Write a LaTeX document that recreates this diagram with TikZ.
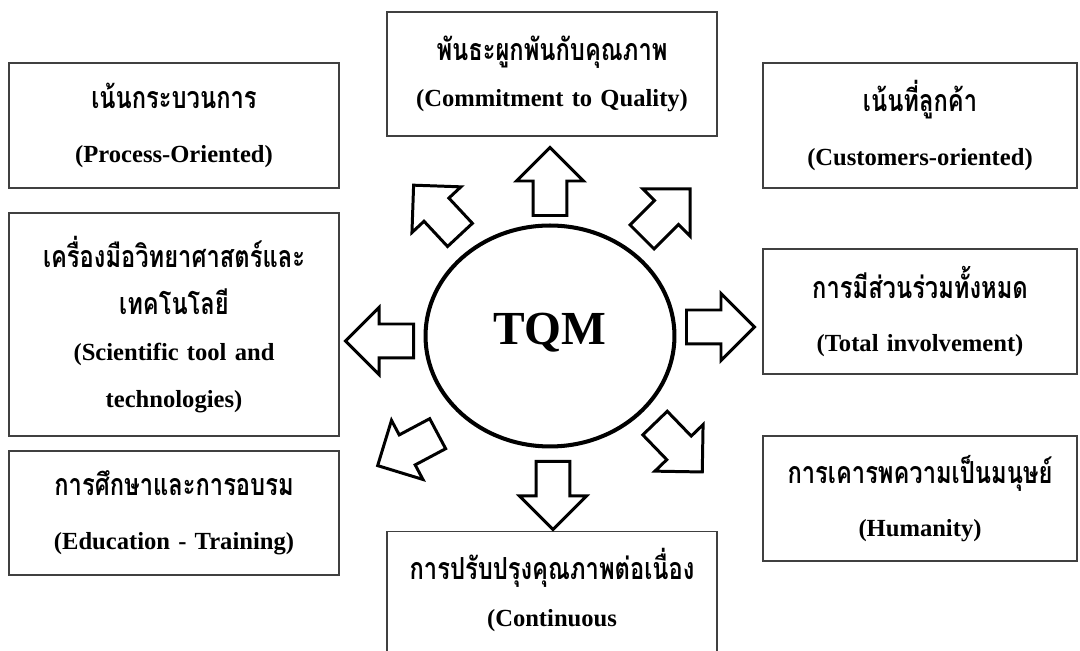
\documentclass[tikz,border=0pt]{standalone}
\usepackage{fontspec}
\setmainfont{Liberation Serif}
\newfontfamily\thaifont[Script=Thai, FakeStretch=0.78]{Loma}
\usetikzlibrary{shapes.geometric,shapes.arrows}
\newcommand{\thailine}[1]{{\thaifont\fontsize{17.3}{17.3}\selectfont #1}}

\begin{document}
\begin{tikzpicture}[x=0.02cm, y=-0.02cm]
    % Define styles
    \tikzset{
        topic/.style={
            draw=black!75,
            line width=0.8pt,
            rectangle,
            inner sep=0pt,
            text width=6.2cm,
            align=center,
            font=\fontsize{14}{#1}\selectfont\bfseries
        },
        topic/.default=30.6pt,
        hub/.style={
            ellipse,
            draw,
            line width=2.3pt,
            minimum width=4.98cm,
            minimum height=4.42cm,
            inner sep=0pt
        },
        bigarrow/.style={
            single arrow,
            draw,
            fill=white,
            line width=1.7pt,
            minimum height=1.36cm,
            inner xsep=0pt,
            inner ysep=0.31cm,
            single arrow head extend=0.33cm,
            anchor=tail
        }
    }

    \useasboundingbox (0,0) rectangle (1080,651);
    \clip (0,0) rectangle (1080,651);

    % Centre
    \node[hub] (hub) at (550,336) {};
    \node[font=\fontsize{27}{27}\selectfont\bfseries, anchor=base] (tqm) at (550,345) {TQM};

    % Top and left column
    \node[topic=26.6pt, minimum width=6.6cm, minimum height=2.48cm] (commit) at (552,74) {
        \thailine{พันธะผูกพันกับคุณภาพ}\\(Commitment to Quality)};
    \node[topic, minimum width=6.6cm, minimum height=2.5cm] (process) at (174,125.5) {
        \thailine{เน้นกระบวนการ}\\(Process-Oriented)};
    \node[topic=26.6pt, minimum width=6.6cm, minimum height=4.46cm] (science) at (174,324.5) {
        \thailine{เครื่องมือวิทยาศาสตร์และ}\\\thailine{เทคโนโลยี}\\(Scientific tool and\\technologies)};
    \node[topic, minimum width=6.6cm, minimum height=2.48cm] (educ) at (174,513) {
        \thailine{การศึกษาและการอบรม}\\(Education - Training)};

    % Right column
    \node[topic, minimum width=6.28cm, minimum height=2.5cm] (customer) at (920,125.5) {
        \thailine{เน้นที่ลูกค้า}\\(Customers-oriented)};
    \node[topic, minimum width=6.28cm, minimum height=2.5cm] (total) at (920,311.5) {
        \thailine{การมีส่วนร่วมทั้งหมด}\\(Total involvement)};
    \node[topic, minimum width=6.28cm, minimum height=2.5cm] (human) at (920,498.5) {
        \thailine{การเคารพความเป็นมนุษย์}\\(Humanity)};

    % Bottom box, cut by the page edge
    \node[topic, minimum width=6.6cm, minimum height=3.6cm, anchor=north] (cont) at (552,531) {};
    \node[topic=26.6pt, draw=none, anchor=north] (contlbl) at (552,548) {
        \thailine{การปรับปรุงคุณภาพต่อเนื่อง}\\(Continuous};

    % Block arrows round the centre
    \node[bigarrow, rotate=90] (upArr) at (550,217) {};
    \node[bigarrow, rotate=45] (neArr) at (641,238) {};
    \node[bigarrow] (eArr) at (685,327) {};
    \node[bigarrow, rotate=-46] (seArr) at (654,422) {};
    \node[bigarrow, rotate=-90] (sArr) at (553,460) {};
    \node[bigarrow, rotate=208] (swArr) at (439,433) {};
    \node[bigarrow, rotate=180] (wArr) at (415,341) {};
    \node[bigarrow, rotate=133] (nwArr) at (461,236) {};
\end{tikzpicture}
\end{document}
